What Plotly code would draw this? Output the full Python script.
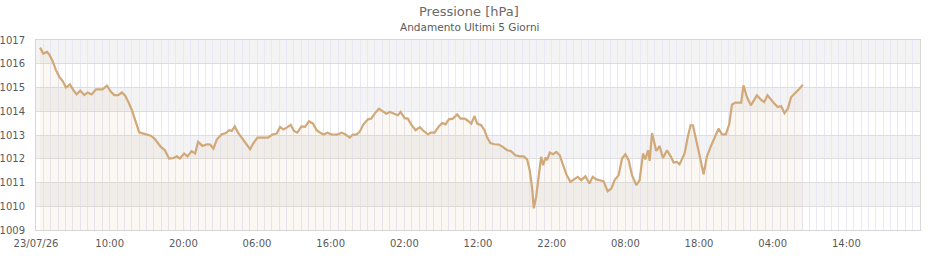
import pandas as pd
import plotly.graph_objects as go

# ---------------- data ----------------
start_time = "2026-07-23 00:00"
span_hours = 120

# hours elapsed since start_time for each reading
hours_offset = [
    0.54, 0.99, 1.49, 1.80, 2.26, 2.71, 3.16, 3.62, 4.07, 4.61, 5.06, 5.52, 6.01, 6.55, 7.01, 7.55,
    8.14, 9.04, 9.63, 10.17, 10.62, 11.16, 11.66, 12.11, 12.57, 13.02, 13.46, 14.01, 14.47, 15.05,
    15.59, 16.14, 16.72, 16.95, 17.49, 18.07, 18.67, 19.12, 19.53, 20.11, 20.57, 21.11, 21.60,
    22.01, 22.60, 23.19, 23.63, 24.09, 24.54, 25.18, 25.76, 26.21, 26.58, 26.98, 27.43, 28.03,
    28.61, 29.06, 29.52, 30.06, 30.74, 31.50, 32.10, 32.68, 33.13, 33.59, 34.03, 34.58,
    35.02, 35.48, 36.03, 36.52, 37.06, 37.60, 38.10, 38.64, 39.09, 39.55, 40.09, 40.91, 41.49,
    42.03, 42.58, 43.02, 43.49, 43.93, 44.43, 45.06, 45.52, 45.97, 46.55, 47.01, 47.55, 48.04,
    48.58, 49.13, 49.49, 50.03, 50.48, 50.94, 51.53, 52.11,
    52.65, 53.19, 53.65, 54.10, 54.68, 55.15, 55.59, 56.04, 56.58, 57.18, 57.63, 58.21, 58.67,
    59.08, 59.53, 59.89, 60.43, 60.88, 61.25, 61.69, 62.24, 62.82, 63.36, 63.96, 64.50, 65.08,
    65.67, 66.21, 66.67, 67.02, 67.35, 67.57, 67.89, 68.24, 68.57, 68.84, 69.15, 69.38, 69.74,
    70.20, 70.64, 71.08, 71.55, 72.00, 72.54, 73.08, 73.53, 74.00, 74.58, 75.12, 75.57, 76.07,
    76.61, 77.06, 77.60, 78.10, 78.55, 79.09, 79.55, 80.00, 80.45, 80.91, 81.49, 81.94, 82.40,
    82.71, 83.08, 83.30, 83.62, 83.93, 84.20, 84.65, 85.11, 85.65, 86.20, 86.55, 87.01, 87.36,
    88.04, 88.50, 88.85, 89.18, 89.63, 90.07, 90.62, 91.08, 91.62, 92.11, 92.65, 93.11, 93.65,
    94.10, 94.47, 94.92, 95.46, 95.73, 96.04, 96.50, 97.04, 97.49, 97.86, 98.40, 98.85, 99.30,
    99.76, 100.24, 100.70, 101.15, 101.60, 102.06, 102.51, 103.05, 103.63, 104.10,
]

pressure_hpa = [
    1016.68, 1016.43, 1016.50, 1016.39, 1016.11, 1015.73, 1015.45, 1015.27, 1015.00, 1015.13,
    1014.89, 1014.71, 1014.87, 1014.68, 1014.79, 1014.71, 1014.92, 1014.92, 1015.08, 1014.82,
    1014.68, 1014.68, 1014.79, 1014.66, 1014.37, 1014.05, 1013.63, 1013.11, 1013.07, 1013.03,
    1012.97, 1012.83, 1012.58, 1012.50, 1012.36, 1012.01, 1012.03, 1012.10, 1012.01, 1012.22,
    1012.10, 1012.32, 1012.22, 1012.71, 1012.54, 1012.61, 1012.60, 1012.43, 1012.81, 1013.02,
    1013.08, 1013.20, 1013.17, 1013.36, 1013.10, 1012.85, 1012.60, 1012.40, 1012.66, 1012.89,
    1012.89, 1012.89, 1013.02, 1013.06, 1013.34, 1013.23, 1013.31, 1013.43,
    1013.17, 1013.10, 1013.36, 1013.34, 1013.58, 1013.48, 1013.20, 1013.08, 1013.02, 1013.10,
    1013.03, 1013.02, 1013.10, 1013.02, 1012.89, 1013.02, 1013.02, 1013.13, 1013.44, 1013.66,
    1013.69, 1013.90, 1014.11, 1014.00, 1013.90, 1013.97, 1013.90, 1013.83, 1013.97, 1013.71,
    1013.69, 1013.44, 1013.20, 1013.33,
    1013.16, 1013.03, 1013.10, 1013.10, 1013.36, 1013.50, 1013.45, 1013.66, 1013.69, 1013.87,
    1013.69, 1013.69, 1013.59, 1013.48, 1013.80, 1013.48, 1013.41, 1013.20, 1012.89, 1012.66,
    1012.61, 1012.60, 1012.50, 1012.36, 1012.32, 1012.15, 1012.10, 1012.10, 1011.97, 1011.52,
    1010.75, 1009.91, 1010.39, 1011.24, 1012.08, 1011.73, 1012.05, 1011.94, 1012.26,
    1012.19, 1012.29, 1012.15, 1011.73, 1011.34, 1011.03, 1011.13, 1011.24, 1011.10, 1011.26,
    1010.96, 1011.24, 1011.13, 1011.10, 1011.05, 1010.63, 1010.75, 1011.10, 1011.31, 1012.01,
    1012.19, 1011.94, 1011.31, 1010.89, 1011.10, 1012.22, 1011.97, 1012.36, 1011.91, 1013.08,
    1012.64, 1012.33, 1012.53, 1012.03, 1012.36, 1012.08, 1011.84, 1011.87, 1011.76,
    1012.22, 1012.95, 1013.41, 1013.41, 1012.71, 1012.15, 1011.35, 1012.10, 1012.53, 1012.87,
    1013.27, 1013.03, 1013.03, 1013.45, 1014.28, 1014.36, 1014.36, 1014.36, 1015.09, 1014.60,
    1014.25, 1014.50, 1014.67, 1014.49, 1014.39, 1014.67, 1014.49, 1014.32, 1014.18, 1014.22,
    1013.92, 1014.11, 1014.60, 1014.76, 1014.95, 1015.12,
]

tick_every_hours = 10
tick_labels = ["23/07/26", "10:00", "20:00", "06:00", "16:00", "02:00",
               "12:00", "22:00", "08:00", "18:00", "04:00", "14:00"]

y_min, y_max = 1009, 1017
shaded_bands = [1016, 1014, 1012, 1010]   # lower edge of each grey band

title_text = "Pressione [hPa]"
subtitle_text = "Andamento Ultimi 5 Giorni"

# ---------------- styling ----------------
FONT = "DejaVu Sans"
LINE_COLOR = "rgb(209,168,120)"
FILL_COLOR = "rgba(210,170,125,0.09)"
BAND_COLOR = "#f3f3f3"
VGRID = "#e8e8f7"
HGRID = "#dedede"
BORDER = "#d6d6d6"
TEXT = "#5a5a5a"

start = pd.Timestamp(start_time)
end = start + pd.Timedelta(hours=span_hours)
times = start + pd.to_timedelta(hours_offset, unit="h")
tick_vals = [start + pd.Timedelta(hours=tick_every_hours * i) for i in range(len(tick_labels))]

fig = go.Figure()
fig.add_trace(go.Scatter(
    x=times, y=pressure_hpa, mode="lines",
    line=dict(color=LINE_COLOR, width=2.2),
    fill="tozeroy", fillcolor=FILL_COLOR,
    hoverinfo="x+y", showlegend=False,
))

for b in shaded_bands:
    fig.add_shape(type="rect", xref="paper", yref="y", x0=0, x1=1, y0=b, y1=b + 1,
                  fillcolor=BAND_COLOR, line=dict(width=0), layer="below")

fig.update_xaxes(
    type="date", range=[start, end], automargin=False,
    tickmode="array", tickvals=tick_vals, ticktext=tick_labels,
    showgrid=True, gridcolor=VGRID, gridwidth=1,
    minor=dict(tick0=start, dtick=3600000, showgrid=True, gridcolor=VGRID, gridwidth=1),
    showline=True, mirror=True, linecolor=BORDER, linewidth=1,
    ticks="", zeroline=False, ticklabelstandoff=4,
    tickfont=dict(family=FONT, size=10, color=TEXT),
)
fig.update_yaxes(
    range=[y_min, y_max], tick0=y_min, dtick=1, automargin=False,
    showgrid=True, gridcolor=HGRID, gridwidth=1,
    showline=True, mirror=True, linecolor=BORDER, linewidth=1,
    ticks="", zeroline=False, ticklabelstandoff=8,
    tickfont=dict(family=FONT, size=10, color=TEXT),
)

fig.update_layout(
    width=940, height=260,
    margin=dict(l=36, r=20, t=40, b=30),
    plot_bgcolor="white", paper_bgcolor="white",
    font=dict(family=FONT, color=TEXT),
    annotations=[
        dict(text=title_text, xref="paper", yref="paper", x=0.49, y=1.152,
             xanchor="center", yanchor="middle", showarrow=False,
             font=dict(family=FONT, size=13, color="#6a6a6a")),
        dict(text=subtitle_text, xref="paper", yref="paper", x=0.49, y=1.068,
             xanchor="center", yanchor="middle", showarrow=False,
             font=dict(family=FONT, size=10.5, color="#5a5a5a")),
    ],
)

fig.write_html("out.html")
